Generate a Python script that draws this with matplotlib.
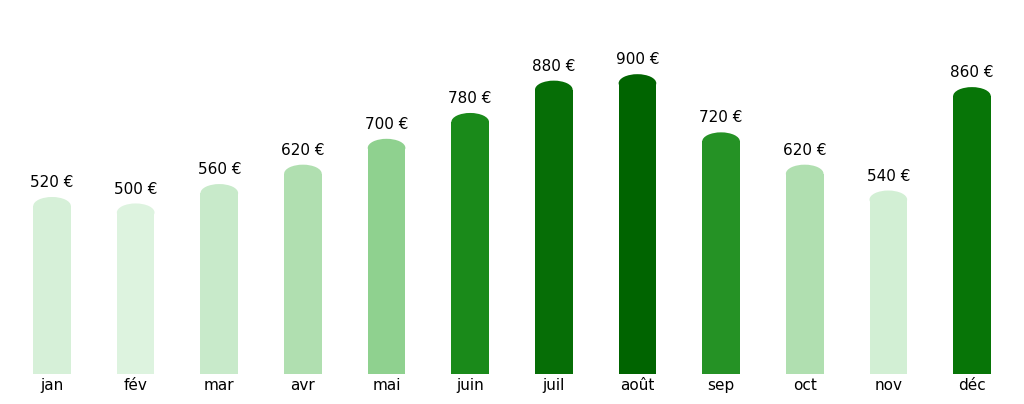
import matplotlib.pyplot as plt
from matplotlib.patches import Ellipse

months = ["jan", "fév", "mar", "avr", "mai", "juin", "juil", "août", "sep", "oct", "nov", "déc"]
values = [520, 500, 560, 620, 700, 780, 880, 900, 720, 620, 540, 860]
colors = ["#d6f0d8", "#ddf3df", "#c8eaca", "#b0dfb0", "#8fd18f", "#1a8a1a",
          "#066e06", "#006400", "#259225", "#b0dfb0", "#d2efd4", "#077507"]

fig = plt.figure(figsize=(10.24, 4.04), dpi=100)
ax = fig.add_axes([0.01, 0.074, 0.98, 0.9])
ax.set_xlim(-0.5, len(months) - 0.5)
ax.set_ylim(0, 1125)

width = 0.45
cap = 56  # ellipse height in data units
for i, (v, c) in enumerate(zip(values, colors)):
    ax.bar(i, v, width=width, color=c)
    ax.add_patch(Ellipse((i, v), width, cap, color=c, lw=0))
    ax.annotate(f"{v} €", (i, v + cap / 2), xytext=(0, 5), textcoords="offset points",
                ha="center", va="bottom", fontsize=11)

ax.set_xticks(range(len(months)), months, fontsize=11)
ax.tick_params(axis="x", length=0, pad=3)
ax.set_yticks([])
for s in ax.spines.values():
    s.set_visible(False)

fig.savefig("out.png")
